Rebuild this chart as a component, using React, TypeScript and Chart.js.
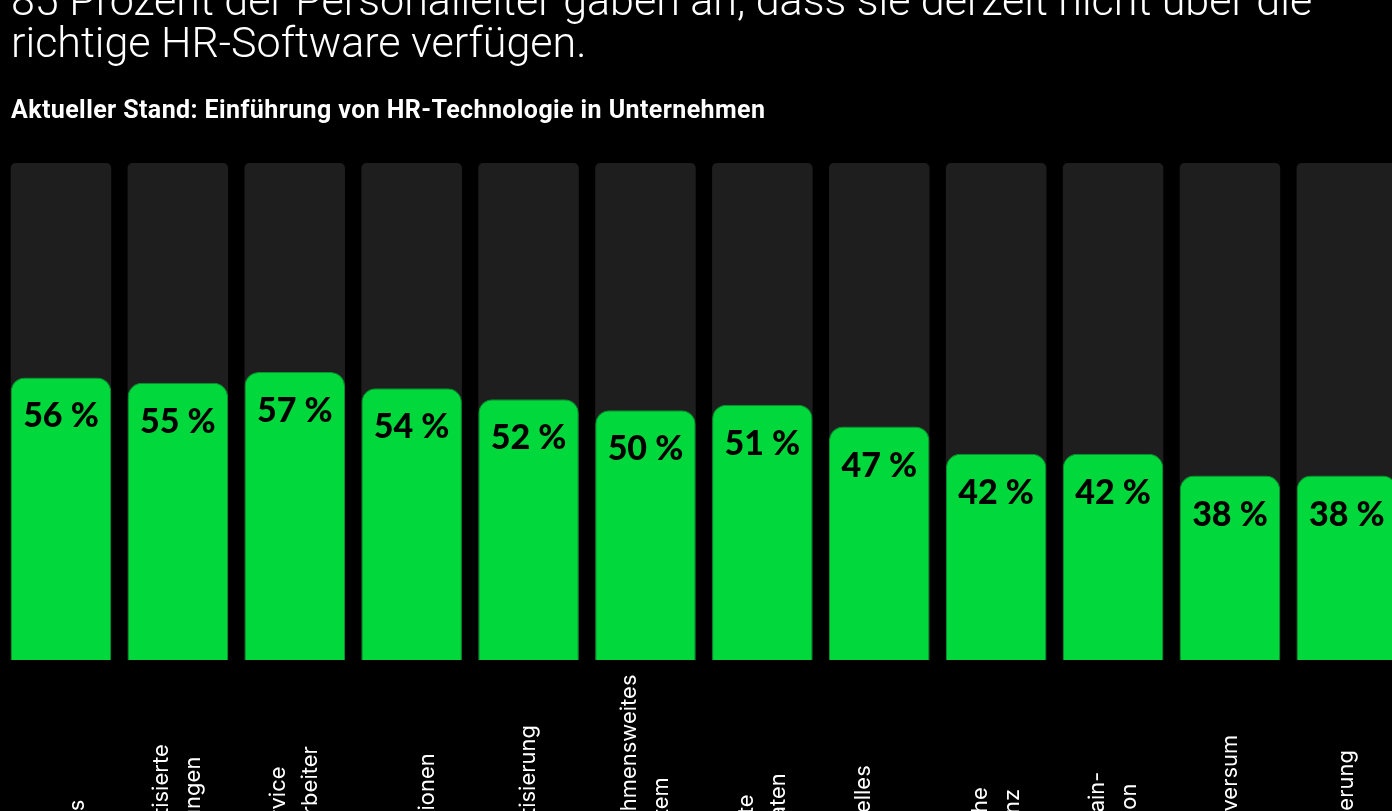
import React, { useEffect, useRef } from "react";
import { Chart, registerables } from "chart.js";

Chart.register(...registerables);

const titleLines = [
  "85 Prozent der Personalleiter gaben an, dass sie derzeit nicht über die",
  "richtige HR-Software verfügen.",
];
const subtitle = "Aktueller Stand: Einführung von HR-Technologie in Unternehmen";

const categories: string[][] = [
  ["People", "Analytics"],
  ["Automatisierte", "Bewertungen"],
  ["Self-Service", "für Mitarbeiter"],
  ["Mobile", "Applikationen"],
  ["Automatisierung"],
  ["Unternehmensweites", "HR-System"],
  ["Vernetzte", "Talentdaten"],
  ["Individuelles", "Lernen"],
  ["Künstliche", "Intelligenz"],
  ["Blockchain-", "Integration"],
  ["Im Metaversum"],
  ["Gamifizierung"],
];
const values = [56, 55, 57, 54, 52, 50, 51, 47, 42, 42, 38, 38];
const yMin = 4.2;
const yMax = 95.3;
const trackValue = yMax;
const valueSuffix = " %";

const GREEN = "#00d83c";
const GREEN_BORDER = "#0b8f2f";
const TRACK = "#1e1e1e";

const valueLabelPlugin = {
  id: "valueLabels",
  afterDatasetsDraw(chart: any) {
    const ctx = chart.ctx;
    const meta = chart.getDatasetMeta(0);
    ctx.save();
    ctx.fillStyle = "#000";
    ctx.font = "900 34px Lato";
    ctx.textAlign = "center";
    ctx.textBaseline = "alphabetic";
    meta.data.forEach((el: any, i: number) => {
      ctx.fillText(`${values[i]}${valueSuffix}`, el.x, el.y + 50);
    });
    ctx.restore();
  },
};

const categoryLabelPlugin = {
  id: "categoryLabels",
  afterDraw(chart: any) {
    const ctx = chart.ctx;
    const xScale = chart.scales.x;
    const baseY = chart.chartArea.bottom + 235;
    const lineGap = 32;
    ctx.save();
    ctx.fillStyle = "#ffffff";
    ctx.font = "400 22px Inter";
    ctx.textAlign = "left";
    ctx.textBaseline = "middle";
    categories.forEach((lines, i) => {
      const cx = xScale.getPixelForValue(i);
      const n = lines.length;
      lines.forEach((line, j) => {
        const lx = cx + (j - (n - 1) / 2) * lineGap;
        ctx.save();
        ctx.translate(lx, baseY);
        ctx.rotate(-Math.PI / 2);
        ctx.fillText(line, 0, 0);
        ctx.restore();
      });
    });
    ctx.restore();
  },
};

function BarChart() {
  const ref = useRef<HTMLCanvasElement | null>(null);
  useEffect(() => {
    if (!ref.current) return;
    const chart = new Chart(ref.current, {
      type: "bar",
      data: {
        labels: categories.map((c) => c.join(" ")),
        datasets: [
          {
            data: values,
            backgroundColor: GREEN,
            borderColor: GREEN_BORDER,
            borderWidth: 1,
            borderSkipped: false,
            borderRadius: { topLeft: 14, topRight: 14, bottomLeft: 0, bottomRight: 0 },
            grouped: false,
            order: 0,
            barPercentage: 1,
            categoryPercentage: 0.86,
          },
          {
            data: categories.map(() => trackValue),
            backgroundColor: TRACK,
            borderWidth: 0,
            borderRadius: { topLeft: 5, topRight: 5, bottomLeft: 0, bottomRight: 0 },
            borderSkipped: false,
            grouped: false,
            order: 1,
            barPercentage: 1,
            categoryPercentage: 0.86,
          },
        ],
      },
      options: {
        responsive: false,
        animation: false,
        layout: { padding: { top: 163, bottom: 290, left: 2.5, right: 0.7 } },
        plugins: {
          legend: { display: false },
          tooltip: { enabled: false },
          title: { display: false },
        },
        scales: {
          x: { display: false, grid: { display: false } },
          y: { display: false, min: yMin, max: yMax, grid: { display: false } },
        },
      },
      plugins: [valueLabelPlugin, categoryLabelPlugin],
    });
    return () => chart.destroy();
  }, []);
  return (
    <canvas
      ref={ref}
      width={1406}
      height={950}
      style={{ position: "absolute", left: 0, top: 0, width: 1406, height: 950 }}
    />
  );
}

export default function App() {
  return (
    <div
      style={{
        position: "fixed",
        left: 0,
        top: 0,
        width: 1392,
        height: 811,
        overflow: "hidden",
        background: "#000",
      }}
    >
      <BarChart />
      <div
        style={{
          position: "absolute",
          left: 11,
          top: -21,
          color: "#fff",
          fontFamily: "Roboto",
          fontWeight: 300,
          fontSize: 43,
          lineHeight: "42px",
          whiteSpace: "nowrap",
        }}
      >
        {titleLines.map((l, i) => (
          <div key={i}>{l}</div>
        ))}
      </div>
      <div
        style={{
          position: "absolute",
          left: 11,
          top: 95,
          color: "#fff",
          fontFamily: "Roboto",
          fontWeight: 700,
          fontSize: 25,
          letterSpacing: 0.4,
          lineHeight: "30px",
          whiteSpace: "nowrap",
        }}
      >
        {subtitle}
      </div>
    </div>
  );
}
